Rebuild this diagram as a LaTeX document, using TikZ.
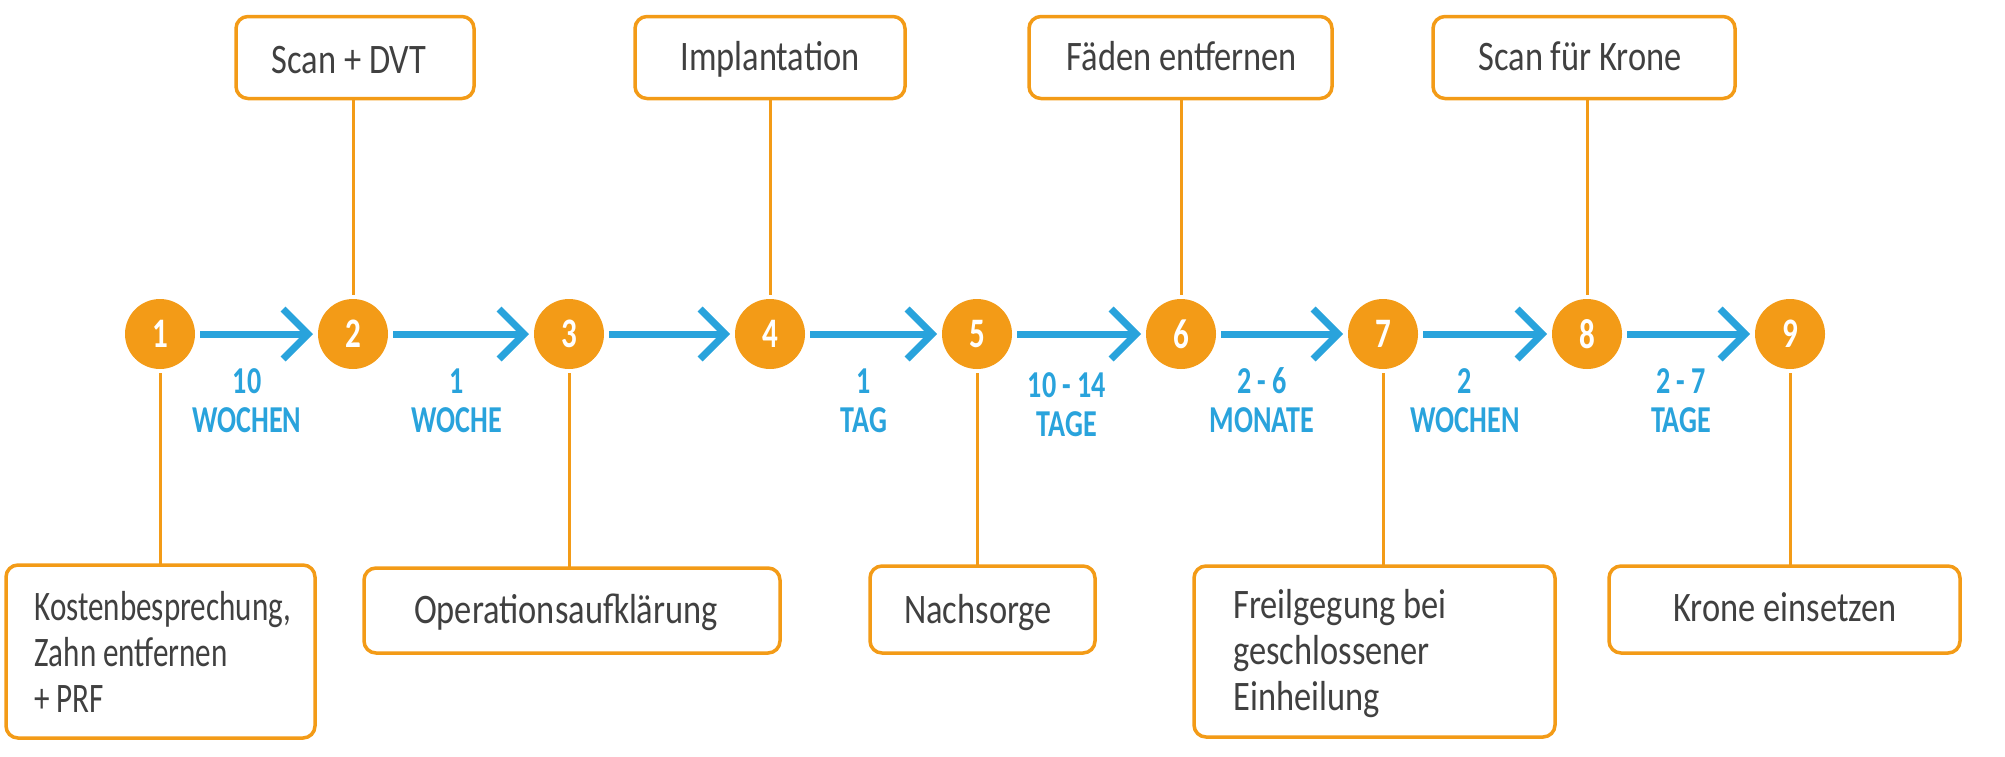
\documentclass[tikz,border=0pt]{standalone}
\usepackage{fontspec}
\setmainfont{Carlito}[FakeStretch=0.82]
\newfontfamily\lblfont{Carlito}[FakeStretch=0.74]
\newfontfamily\narrowtxt{Carlito}[FakeStretch=0.74]
\usetikzlibrary{arrows.meta}
\definecolor{orng}{HTML}{F39B17}
\definecolor{blu}{HTML}{29A3DC}
\definecolor{txt}{HTML}{404040}
\begin{document}
\begin{tikzpicture}[x=0.5pt,y=-0.5pt,
  stepcirc/.style={circle, fill=orng, minimum size=35pt, inner sep=0pt, outer sep=0pt,
    text=white, font=\lblfont\bfseries\fontsize{21}{21}\selectfont},
  stepbox/.style={draw=orng, line width=1.75pt, rounded corners=6pt, fill=white,
    inner sep=0pt, outer sep=0pt},
  boxtxt/.style={text=txt, font=\fontsize{21}{23}\selectfont, inner sep=0pt, anchor=base},
  boxtxtl/.style={text=txt, font=\fontsize{21}{23}\selectfont, inner sep=0pt,
    anchor=base west, align=left},
  dur/.style={text=blu, font=\lblfont\bfseries\fontsize{19}{19.5}\selectfont,
    align=center, inner sep=0pt, anchor=base},
  flow/.style={draw=blu, line width=3.5pt, -{Straight Barb[length=12.5pt,width=25pt]},
    shorten <=2.5pt, shorten >=2.5pt},
  link/.style={draw=orng, line width=1.5pt}
]
\useasboundingbox (0,0) rectangle (2005,756);

% circles
\node[stepcirc] (c1) at (160,334) {1};
\node[stepcirc] (c2) at (353,334) {2};
\node[stepcirc] (c3) at (569,334) {3};
\node[stepcirc] (c4) at (770,334) {4};
\node[stepcirc] (c5) at (977,334) {5};
\node[stepcirc] (c6) at (1181,334) {6};
\node[stepcirc] (c7) at (1383,334) {7};
\node[stepcirc] (c8) at (1587,334) {8};
\node[stepcirc] (c9) at (1790,334) {9};

% top boxes
\node[stepbox, minimum width=119pt, minimum height=41pt] (t2) at (355,57.5) {};
\node[stepbox, minimum width=135pt, minimum height=41pt] (t4) at (770,57.5) {};
\node[stepbox, minimum width=151.5pt, minimum height=41pt] (t6) at (1180.5,57.5) {};
\node[stepbox, minimum width=151pt, minimum height=41pt] (t8) at (1584,57.5) {};

% bottom boxes
\node[stepbox, minimum width=154.5pt, minimum height=86.5pt] (b1) at (160.5,651.5) {};
\node[stepbox, minimum width=208pt, minimum height=42.5pt] (b3) at (572,610.5) {};
\node[stepbox, minimum width=112.5pt, minimum height=43.5pt] (b5) at (982.5,609.5) {};
\node[stepbox, minimum width=180.5pt, minimum height=85.5pt] (b7) at (1374.5,651.5) {};
\node[stepbox, minimum width=175.5pt, minimum height=43.5pt] (b9) at (1784.5,609.5) {};

% box texts (base anchor = baseline of last line)
\node[boxtxt] (tx2) at (349,73) {Scan + DVT};
\node[boxtxt] (tx4) at (770,70) {Implantation};
\node[boxtxt] (tx6) at (1182,70) {Fäden entfernen};
\node[boxtxt] (tx8) at (1580,70) {Scan für Krone};
\node[boxtxtl, font=\narrowtxt\fontsize{21}{23}\selectfont] (bx1) at (34,712) {Kostenbesprechung,\\Zahn entfernen\\+ PRF};
\node[boxtxt] (bx3) at (566,623) {Operationsaufklärung};
\node[boxtxt] (bx5) at (978,623) {Nachsorge};
\node[boxtxtl] (bx7) at (1233,710) {Freilgegung bei\\geschlossener\\Einheilung};
\node[boxtxt] (bx9) at (1785,621) {Krone einsetzen};

% flow arrows
\draw[flow] (c1.east) -- (c2.west);
\draw[flow] (c2.east) -- (c3.west);
\draw[flow] (c3.east) -- (c4.west);
\draw[flow] (c4.east) -- (c5.west);
\draw[flow] (c5.east) -- (c6.west);
\draw[flow] (c6.east) -- (c7.west);
\draw[flow] (c7.east) -- (c8.west);
\draw[flow] (c8.east) -- (c9.west);

% duration labels
\node[dur] (d12) at (247,432) {10\\WOCHEN};
\node[dur] (d23) at (457,432) {1\\WOCHE};
\node[dur] (d45) at (864,432) {1\\TAG};
\node[dur] (d56) at (1067,436) {10 - 14\\TAGE};
\node[dur] (d67) at (1262,432) {2 - 6\\MONATE};
\node[dur] (d78) at (1465,432) {2\\WOCHEN};
\node[dur] (d89) at (1681,432) {2 - 7\\TAGE};

% links to boxes
\draw[link, shorten >=2pt] (c2 |- t2.south) -- (c2.north);
\draw[link, shorten >=2pt] (c4 |- t4.south) -- (c4.north);
\draw[link, shorten >=2pt] (c6 |- t6.south) -- (c6.north);
\draw[link, shorten >=2pt] (c8 |- t8.south) -- (c8.north);
\draw[link, shorten <=2pt] (c1.south) -- (c1 |- b1.north);
\draw[link, shorten <=2pt] (c3.south) -- (c3 |- b3.north);
\draw[link, shorten <=2pt] (c5.south) -- (c5 |- b5.north);
\draw[link, shorten <=2pt] (c7.south) -- (c7 |- b7.north);
\draw[link, shorten <=2pt] (c9.south) -- (c9 |- b9.north);
\end{tikzpicture}
\end{document}
